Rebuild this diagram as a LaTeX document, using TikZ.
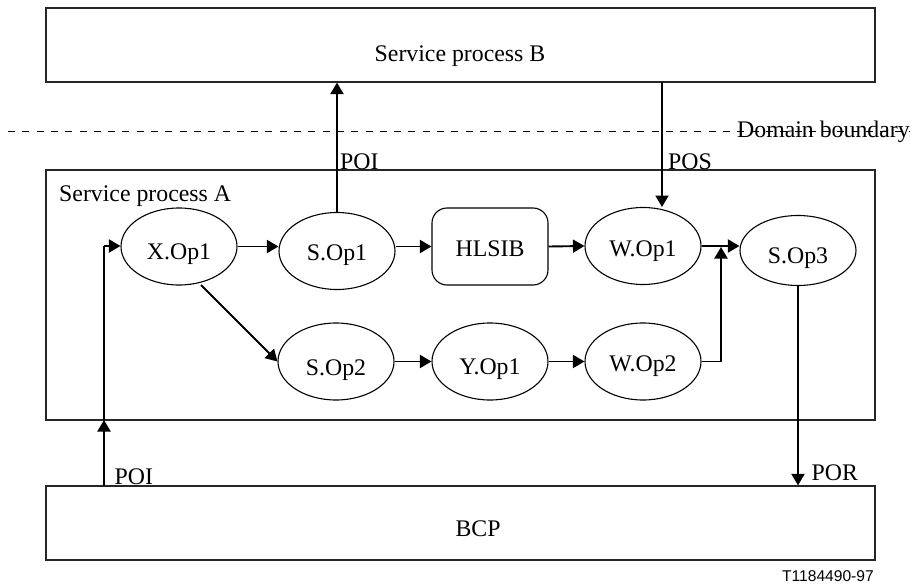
\documentclass[tikz,border=0pt]{standalone}
\usepackage{fontspec}
\setmainfont{Liberation Serif}
\newfontfamily\labelsans{Liberation Sans}
\usetikzlibrary{arrows.meta,shapes.geometric}
\begin{document}
\begin{tikzpicture}[x=1pt,y=-1pt,
  txt/.style={font=\fontsize{23.8}{28}\selectfont, inner sep=0pt, anchor=base},
  box/.style={draw=black!85, line width=1.2pt, inner sep=0pt},
  op/.style={ellipse, draw, line width=1.1pt, minimum width=116pt, minimum height=77pt, inner sep=0pt},
  arr/.style={line width=1.9pt, -{Triangle[length=11.5pt,width=13pt]}},
  thin/.style={line width=1.2pt}
]
\useasboundingbox (0,0) rectangle (914,586);
% boxes
\node[box, minimum width=829pt, minimum height=74pt] (B) at (460.5,45) {};
\node[txt] (Btxt) at (460,61.7) {Service process B};
\node[box, minimum width=829pt, minimum height=250pt] (A) at (460.5,295) {};
\node[txt, anchor=base west] (Atxt) at (59,201) {Service process A};
\node[box, minimum width=829pt, minimum height=74pt] (C) at (460.5,523) {};
\node[txt] (Ctxt) at (478,536.7) {BCP};
% domain boundary
\coordinate (d1) at (8,131.5);
\coordinate (d2) at (910,131.5);
\draw[line width=1.3pt, dash pattern=on 7pt off 7.3pt] (d1) -- (d2);
\node[txt, anchor=base west] (dom) at (737,137.5) {Domain boundary};
% nodes
\node[op] (xop1) at (179,246.5) {};
\node[txt] (xop1t) at (179,259) {X.Op1};
\node[op] (sop1) at (337,251) {};
\node[txt] (sop1t) at (337,260) {S.Op1};
\node[draw, line width=1.1pt, rounded corners=15pt, minimum width=116pt, minimum height=77pt, inner sep=0pt] (hlsib) at (490,246.5) {};
\node[txt] (hlsibt) at (490,256.5) {HLSIB};
\node[op] (wop1) at (643,246) {};
\node[txt] (wop1t) at (643,256.5) {W.Op1};
\node[op, minimum height=70pt] (sop3) at (798,250.5) {};
\node[txt] (sop3t) at (798,263) {S.Op3};
\node[op] (sop2) at (336,361.5) {};
\node[txt] (sop2t) at (336,375) {S.Op2};
\node[op] (yop1) at (490,361.5) {};
\node[txt] (yop1t) at (490,374) {Y.Op1};
\node[op] (wop2) at (643,361.5) {};
\node[txt] (wop2t) at (643,371) {W.Op2};
% row 1 arrows
\draw[arr] (xop1.east) -- (xop1.east -| sop1.west);
\draw[arr] (sop1.east |- hlsib.west) -- (hlsib.west);
\draw[arr] (hlsib.east) -- (wop1.west);
\draw[arr] (wop1.east) -- (wop1.east -| sop3.west);
% row 2
\coordinate (xd) at (201,285);
\draw[arr] (xd) -- (sop2.west);
\draw[arr] (sop2.east) -- (yop1.west);
\draw[arr] (yop1.east) -- (wop2.west);
\coordinate (j) at (721,247);
\draw[thin] (wop2.east) -| (721,300);
\draw[arr] (721,300) -- (j);
% to B
\draw[arr] (sop1.north) -- (sop1.north |- B.south);
\node[txt, anchor=base west] (poi1) at (340,169.3) {POI};
\coordinate (bs) at (662,82);
\draw[arr] (bs) -- (662,207);
\node[txt, anchor=base west] (pos) at (668,169.3) {POS};
% from BCP
\coordinate (cb) at (104,486);
\coordinate (ab) at (104,420);
\draw[arr] (cb) -- (ab);
\draw[thin] (ab) -- (104,246) coordinate (corner);
\draw[arr] (corner) -- (corner -| xop1.west);
\node[txt, anchor=base west] (poi2) at (114.5,484) {POI};
\draw[arr] (sop3.south) -- (sop3.south |- C.north);
\node[txt, anchor=base west] (por) at (811.5,480.7) {POR};
\node[inner sep=0pt, anchor=base east, font=\labelsans\fontsize{15.6}{18}\selectfont] (tag) at (874,581) {T1184490-97};
\end{tikzpicture}
\end{document}
